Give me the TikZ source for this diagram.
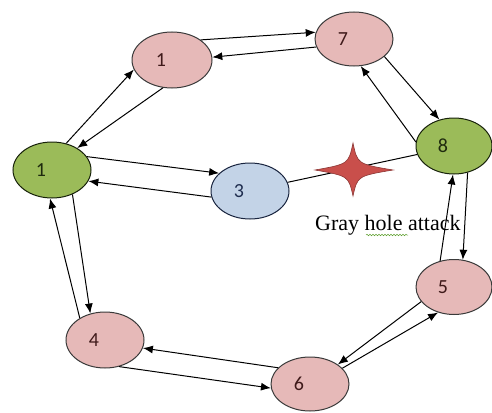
\documentclass[tikz,border=0pt]{standalone}
\usepackage{fontspec}
\setmainfont{Liberation Serif}
\newfontfamily\numfont{Carlito}
\usetikzlibrary{arrows.meta,decorations.pathmorphing,shapes.geometric}

\definecolor{pinkfill}{HTML}{E6B9B8}
\definecolor{pinktext}{HTML}{3F1A1A}
\definecolor{greenfill}{HTML}{9BBB59}
\definecolor{greentext}{HTML}{1E2A0E}
\definecolor{bluefill}{HTML}{C3D3E7}
\definecolor{bluetext}{HTML}{1F2D4F}
\definecolor{edgegray}{HTML}{3A3A3A}
\definecolor{starred}{HTML}{C94F4B}
\definecolor{starline}{HTML}{8C3836}
\definecolor{spellgreen}{HTML}{5FA030}

\tikzset{
  ell/.style={ellipse, draw=edgegray, line width=1pt, inner sep=0pt,
              minimum width=78pt, minimum height=56pt},
  pinknode/.style={ell, fill=pinkfill},
  greennode/.style={ell, fill=greenfill, draw=greentext!80!black},
  bluenode/.style={ell, fill=bluefill, draw=bluetext!80!black},
  num/.style={font=\numfont\fontsize{20}{22}\selectfont, inner sep=0pt},
  link/.style={line width=1pt, -{Latex[length=10pt,width=8pt]}},
  plain/.style={line width=1pt},
}

\begin{document}
\begin{tikzpicture}[x=1pt, y=-1pt]
\useasboundingbox (0,0) rectangle (492,412);

% nodes (ellipses)
\node[greennode] (A) at (52,170) {};
\node[pinknode, minimum width=80pt] (B) at (172,60) {};
\node[pinknode, minimum height=54pt] (C) at (354,39) {};
\node[greennode, minimum width=76pt] (D) at (454,146) {};
\node[bluenode] (E) at (250,191) {};
\node[pinknode, minimum width=76pt, minimum height=55pt] (F) at (454,287) {};
\node[pinknode, minimum height=54pt] (G) at (310,384) {};
\node[pinknode] (H) at (105,340) {};

% labels, set slightly left of centre
\node[num, text=greentext] (lA) at ([xshift=-11pt]A.center) {1};
\node[num, text=pinktext] (lB) at ([xshift=-11pt]B.center) {1};
\node[num, text=pinktext] (lC) at ([xshift=-11pt]C.center) {7};
\node[num, text=greentext] (lD) at ([xshift=-11pt]D.center) {8};
\node[num, text=bluetext] (lE) at ([xshift=-11pt]E.center) {3};
\node[num, text=pinktext] (lF) at ([xshift=-11pt]F.center) {5};
\node[num, text=pinktext] (lG) at ([xshift=-11pt]G.center) {6};
\node[num, text=pinktext] (lH) at ([xshift=-11pt]H.center) {4};

% route links
\draw[link] (B.35) -- (C.170);
\draw[link] (C.192) -- (B.4);
\draw[link] (C.-30) -- (D.119);
\draw[link] (D.174) -- (C.-76);
\draw[link] (A.62) -- (B.194);
\draw[link] (B.252) -- (A.41);
\draw[link] (A.21) -- (E.150);
\draw[link] (E.189) -- (A.-17);
\draw[link] (H.139) -- (A.266);
\draw[link] (A.310) -- (H.119);
\draw[link] (D.297) -- (F.72);
\draw[link] (F.118) -- (D.268);
\draw[link] (F.204) -- (G.35);
\draw[link] (G.26) -- (F.238);
\draw[link] (G.153) -- (H.348);
\draw[link] (H.298) -- (G.186);

% attacked link through the star
\draw[plain] (E.13) -- (D.193);

% four-pointed star marking the attack
\fill[starred, draw=starline, line width=0.6pt]
  (353,143) .. controls (357.5,164) .. (393,170)
            .. controls (357.5,176) .. (353,196)
            .. controls (348.5,176) .. (315,170)
            .. controls (348.5,164) .. cycle;

% caption
\node[anchor=base west, inner sep=0pt, font=\fontsize{22}{25}\selectfont]
  (cap) at (315,230) {Gray hole attack};
\draw[spellgreen, line width=0.5pt, decorate,
      decoration={snake, amplitude=0.8pt, segment length=3pt}]
  (366,235) -- (408,235);
\end{tikzpicture}
\end{document}
